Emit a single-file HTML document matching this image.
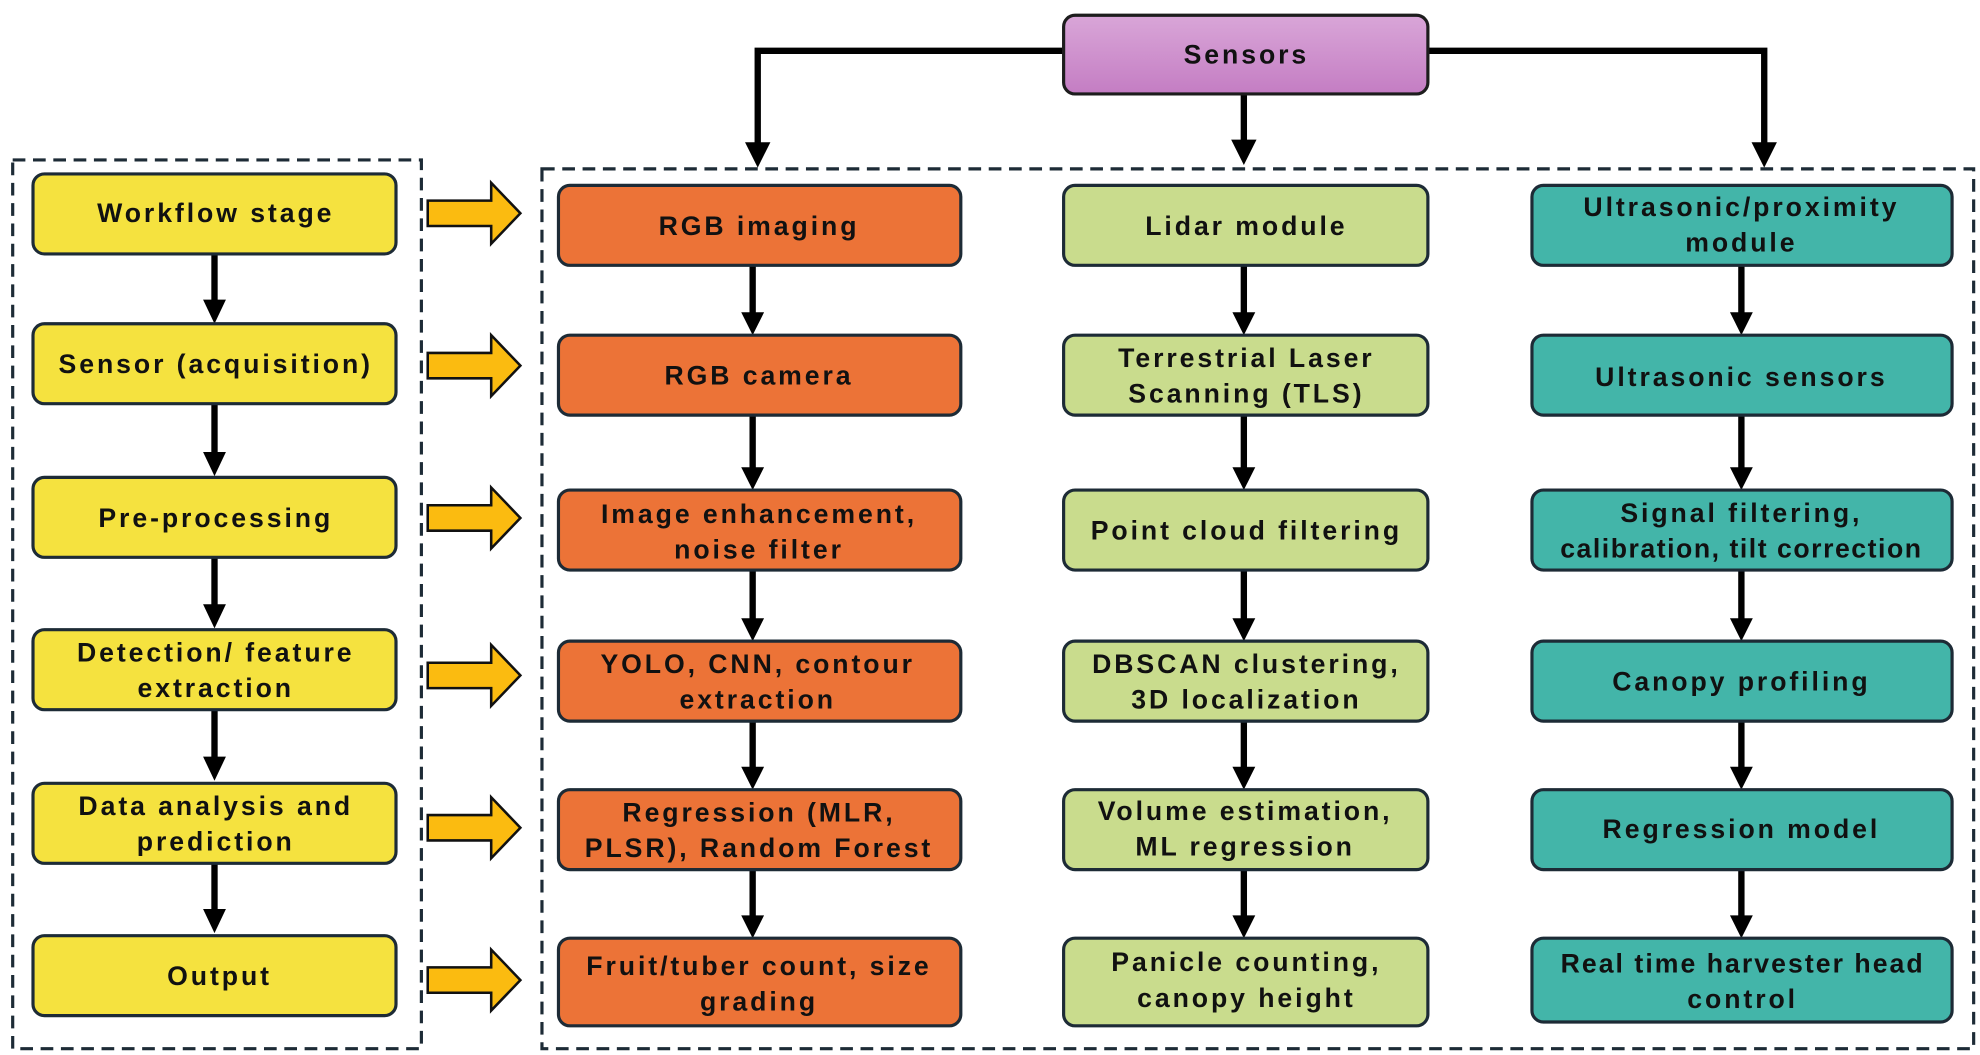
<!DOCTYPE html>
<html><head><meta charset="utf-8"><style>
html,body{margin:0;padding:0;background:#fff;}
svg{display:block;}
text{font-family:"Liberation Sans",sans-serif;font-weight:bold;font-size:21px;letter-spacing:2.3px;fill:#111;text-anchor:middle;}
</style></head><body>
<svg width="1980" height="1055" viewBox="0 0 1560 831" preserveAspectRatio="none" xmlns="http://www.w3.org/2000/svg">
<defs>
<linearGradient id="pg" x1="0" y1="0" x2="0" y2="1"><stop offset="0" stop-color="#d9a6d8"/><stop offset="1" stop-color="#c47dc3"/></linearGradient>
</defs>
<rect x="10" y="126" width="322" height="700" fill="none" stroke="#1d2b36" stroke-width="2.5" stroke-dasharray="10,6"/>
<rect x="427" y="133" width="1128" height="693" fill="none" stroke="#1d2b36" stroke-width="2.5" stroke-dasharray="10,6"/>
<g stroke="#000" stroke-width="5" fill="none">
<path d="M838,40 H597 V118"/><path d="M1125,40 H1390 V118"/><path d="M980,74 V116"/>
</g>
<g fill="#000">
<path d="M587,112 L607,112 L597,132 z"/><path d="M970,110 L990,110 L980,130 z"/><path d="M1380,112 L1400,112 L1390,132 z"/>
</g>
<rect x="838" y="12" width="287" height="62" rx="9" fill="url(#pg)" stroke="#1d1d1d" stroke-width="2.5"/>
<text x="982" y="50">Sensors</text>

<g stroke="#000" stroke-width="5">
<line x1="169" y1="200" x2="169" y2="240"/><line x1="169" y1="318" x2="169" y2="360"/><line x1="169" y1="439" x2="169" y2="480"/><line x1="169" y1="559" x2="169" y2="600"/><line x1="169" y1="680" x2="169" y2="720"/>
<line x1="593" y1="209" x2="593" y2="248"/><line x1="593" y1="327" x2="593" y2="370"/><line x1="593" y1="449" x2="593" y2="489"/><line x1="593" y1="568" x2="593" y2="606"/><line x1="593" y1="685" x2="593" y2="723"/>
<line x1="980" y1="209" x2="980" y2="248"/><line x1="980" y1="327" x2="980" y2="370"/><line x1="980" y1="449" x2="980" y2="489"/><line x1="980" y1="568" x2="980" y2="606"/><line x1="980" y1="685" x2="980" y2="723"/>
<line x1="1372" y1="209" x2="1372" y2="248"/><line x1="1372" y1="327" x2="1372" y2="370"/><line x1="1372" y1="449" x2="1372" y2="489"/><line x1="1372" y1="568" x2="1372" y2="606"/><line x1="1372" y1="685" x2="1372" y2="723"/>
</g>
<g fill="#000">
<path d="M160,236 h18 l-9,19 z"/><path d="M160,356 h18 l-9,19 z"/><path d="M160,476 h18 l-9,19 z"/><path d="M160,596 h18 l-9,19 z"/><path d="M160,716 h18 l-9,19 z"/>
<path d="M584,246 h18 l-9,18 z"/><path d="M584,368 h18 l-9,18 z"/><path d="M584,487 h18 l-9,18 z"/><path d="M584,604 h18 l-9,18 z"/><path d="M584,721 h18 l-9,18 z"/>
<path d="M971,246 h18 l-9,18 z"/><path d="M971,368 h18 l-9,18 z"/><path d="M971,487 h18 l-9,18 z"/><path d="M971,604 h18 l-9,18 z"/><path d="M971,721 h18 l-9,18 z"/>
<path d="M1363,246 h18 l-9,18 z"/><path d="M1363,368 h18 l-9,18 z"/><path d="M1363,487 h18 l-9,18 z"/><path d="M1363,604 h18 l-9,18 z"/><path d="M1363,721 h18 l-9,18 z"/>
</g>

<g fill="#fbbb10" stroke="#111" stroke-width="2">
<path d="M337,158 h50 v-14 l23,24 l-23,24 v-14 h-50 z"/>
<path d="M337,278 h50 v-14 l23,24 l-23,24 v-14 h-50 z"/>
<path d="M337,398 h50 v-14 l23,24 l-23,24 v-14 h-50 z"/>
<path d="M337,522 h50 v-14 l23,24 l-23,24 v-14 h-50 z"/>
<path d="M337,642 h50 v-14 l23,24 l-23,24 v-14 h-50 z"/>
<path d="M337,762 h50 v-14 l23,24 l-23,24 v-14 h-50 z"/>
</g>

<g fill="#f5e23f" stroke="#1d2b36" stroke-width="2.5">
<rect x="26" y="137" width="286" height="63" rx="9"/><rect x="26" y="255" width="286" height="63" rx="9"/><rect x="26" y="376" width="286" height="63" rx="9"/><rect x="26" y="496" width="286" height="63" rx="9"/><rect x="26" y="617" width="286" height="63" rx="9"/><rect x="26" y="737" width="286" height="63" rx="9"/>
</g>
<g fill="#ec7337" stroke="#1d2b36" stroke-width="2.5">
<rect x="440" y="146" width="317" height="63" rx="9"/><rect x="440" y="264" width="317" height="63" rx="9"/><rect x="440" y="386" width="317" height="63" rx="9"/><rect x="440" y="505" width="317" height="63" rx="9"/><rect x="440" y="622" width="317" height="63" rx="9"/><rect x="440" y="739" width="317" height="69" rx="9"/>
</g>
<g fill="#c9dc8d" stroke="#1d2b36" stroke-width="2.5">
<rect x="838" y="146" width="287" height="63" rx="9"/><rect x="838" y="264" width="287" height="63" rx="9"/><rect x="838" y="386" width="287" height="63" rx="9"/><rect x="838" y="505" width="287" height="63" rx="9"/><rect x="838" y="622" width="287" height="63" rx="9"/><rect x="838" y="739" width="287" height="69" rx="9"/>
</g>
<g fill="#43b5a9" stroke="#1d2b36" stroke-width="2.5">
<rect x="1207" y="146" width="331" height="63" rx="9"/><rect x="1207" y="264" width="331" height="63" rx="9"/><rect x="1207" y="386" width="331" height="63" rx="9"/><rect x="1207" y="505" width="331" height="63" rx="9"/><rect x="1207" y="622" width="331" height="63" rx="9"/><rect x="1207" y="739" width="331" height="66" rx="9"/>
</g>

<text x="170" y="175">Workflow stage</text>
<text x="170" y="294">Sensor (acquisition)</text>
<text x="170" y="415">Pre-processing</text>
<text x="170" y="521">Detection/ feature</text><text x="170" y="549">extraction</text>
<text x="170" y="642">Data analysis and</text><text x="170" y="670">prediction</text>
<text x="173" y="776">Output</text>

<text x="598" y="185">RGB imaging</text>
<text x="598" y="303">RGB camera</text>
<text x="598" y="412">Image enhancement,</text><text x="598" y="440">noise filter</text>
<text x="597" y="530">YOLO, CNN, contour</text><text x="597" y="558">extraction</text>
<text x="598" y="647">Regression (MLR,</text><text x="598" y="675">PLSR), Random Forest</text>
<text x="598" y="768">Fruit/tuber count, size</text><text x="598" y="796">grading</text>

<text x="982" y="185">Lidar module</text>
<text x="982" y="289">Terrestrial Laser</text><text x="982" y="317">Scanning (TLS)</text>
<text x="982" y="425">Point cloud filtering</text>
<text x="982" y="530">DBSCAN clustering,</text><text x="982" y="558">3D localization</text>
<text x="981" y="646">Volume estimation,</text><text x="981" y="674">ML regression</text>
<text x="982" y="765">Panicle counting,</text><text x="982" y="793">canopy height</text>

<text x="1372" y="170">Ultrasonic/proximity</text><text x="1372" y="198">module</text>
<text x="1372" y="304">Ultrasonic sensors</text>
<text x="1372" y="411">Signal filtering,</text><text x="1372" y="439" style="letter-spacing:1.2px">calibration, tilt correction</text>
<text x="1372" y="544">Canopy profiling</text>
<text x="1372" y="660">Regression model</text>
<text x="1373" y="766" style="letter-spacing:1.6px">Real time harvester head</text><text x="1373" y="794">control</text>
</svg>
</body></html>
